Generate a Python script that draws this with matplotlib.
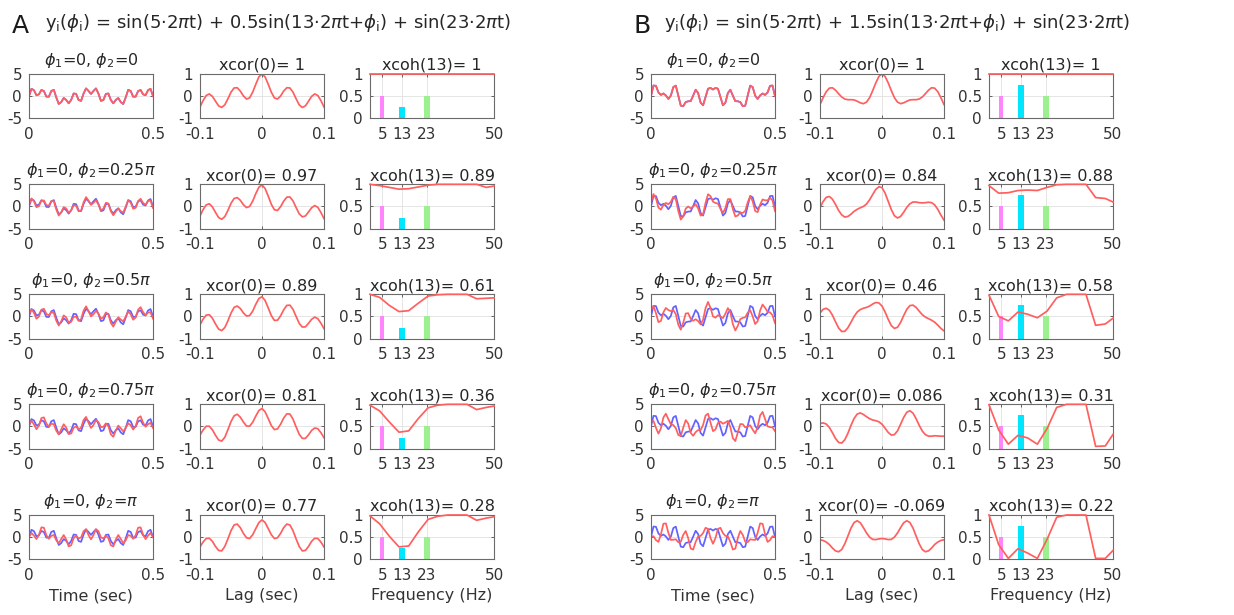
import numpy as np
import matplotlib
matplotlib.use('Agg')
import matplotlib.pyplot as plt

plt.rcParams['font.family'] = ['DejaVu Sans']
plt.rcParams['axes.unicode_minus'] = False
plt.rcParams['mathtext.fontset'] = 'dejavusans'

# ---------------- data ----------------
time = np.linspace(0, 0.5, 51)
lags = np.linspace(-0.1, 0.1, 41)
freqs = [0, 3.9, 7.8, 11.7, 15.6, 19.5, 23.4, 27.3, 31.3, 35.2, 39.1, 43.0, 46.9, 50]

phase_labels = ['0', '0.25$\\pi$', '0.5$\\pi$', '0.75$\\pi$', '$\\pi$']

# panel A time series (y2 for each phi2; y1 equals the phi2=0 series)
A_ts_0 = [0, 1.67, 1.34, 0.20, 0.41, 1.40, 1.15, -0.10, -0.13, 1.17, 1.43, -0.28, -1.77, -1.34, -0.42, -0.85, -1.62, -0.86, 0.60, 0.51, -0.88, -1.06, 0.57, 1.75, 1.17, 0.50, 1.17, 1.75, 0.57, -1.06, -0.88, 0.51, 0.60, -0.86, -1.62, -0.85, -0.42, -1.34, -1.77, -0.28, 1.43, 1.17, -0.13, -0.10, 1.15, 1.40, 0.41, 0.20, 1.34, 1.67, 0]
A_ts_025 = [0.35, 1.80, 1.17, -0.17, 0.07, 1.32, 1.36, 0.28, 0.17, 1.22, 1.18, -0.67, -2.05, -1.33, -0.14, -0.46, -1.38, -0.91, 0.29, 0.14, -1.08, -0.96, 0.91, 2.11, 1.33, 0.35, 0.81, 1.40, 0.46, -0.87, -0.51, 0.83, 0.67, -1.09, -2.00, -1.14, -0.44, -1.07, -1.39, -0.03, 1.40, 0.87, -0.51, -0.32, 1.22, 1.73, 0.78, 0.38, 1.21, 1.32, -0.35]
A_ts_05 = [0.50, 1.64, 0.81, -0.51, -0.03, 1.52, 1.73, 0.59, 0.23, 0.98, 0.80, -0.95, -2.05, -1.06, 0.24, -0.22, -1.42, -1.22, -0.09, -0.07, -0.99, -0.63, 1.28, 2.28, 1.19, 0.00, 0.46, 1.28, 0.64, -0.50, -0.18, 0.91, 0.45, -1.47, -2.29, -1.17, -0.18, -0.69, -1.12, -0.04, 1.11, 0.49, -0.74, -0.25, 1.54, 2.10, 0.97, 0.27, 0.87, 0.96, -0.50]
A_ts_075 = [0.35, 1.29, 0.46, -0.62, 0.16, 1.89, 2.05, 0.66, 0.00, 0.60, 0.51, -0.97, -1.79, -0.67, 0.50, -0.25, -1.72, -1.60, -0.31, 0.01, -0.67, -0.26, 1.45, 2.15, 0.84, -0.35, 0.33, 1.45, 1.00, -0.17, -0.09, 0.70, 0.07, -1.78, -2.34, -0.92, 0.20, -0.41, -1.13, -0.33, 0.72, 0.26, -0.69, 0.06, 1.92, 2.30, 0.86, -0.07, 0.51, 0.80, -0.35]
A_ts_1 = [0, 0.94, 0.34, -0.44, 0.53, 2.21, 2.13, 0.44, -0.38, 0.30, 0.48, -0.71, -1.40, -0.41, 0.48, -0.54, -2.10, -1.83, -0.24, 0.33, -0.29, -0.07, 1.34, 1.81, 0.48, -0.50, 0.48, 1.81, 1.34, -0.07, -0.29, 0.33, -0.24, -1.83, -2.10, -0.54, 0.48, -0.41, -1.40, -0.71, 0.48, 0.30, -0.38, 0.44, 2.13, 2.21, 0.53, -0.44, 0.34, 0.94, 0]

# panel B time series
B_ts_0 = [0, 2.40, 2.33, 0.83, 0.28, 0.60, 0.16, -0.63, 0.12, 2.05, 2.38, 0.14, -2.14, -2.27, -1.33, -1.16, -1.13, 0.11, 1.45, 0.70, -1.47, -2.06, -0.20, 1.68, 1.85, 1.50, 1.85, 1.68, -0.20, -2.06, -1.47, 0.70, 1.45, 0.11, -1.13, -1.16, -1.33, -2.27, -2.14, 0.14, 2.38, 2.05, 0.12, -0.63, 0.16, 0.60, 0.28, 0.83, 2.33, 2.40, 0]
B_ts_025 = [1.06, 2.80, 1.83, -0.26, -0.72, 0.33, 0.79, 0.50, 1.04, 2.18, 1.63, -1.01, -2.96, -2.25, -0.48, -0.01, -0.42, -0.05, 0.51, -0.42, -2.07, -1.75, 0.81, 2.77, 2.33, 1.06, 0.78, 0.65, -0.54, -1.49, -0.35, 1.66, 1.65, -0.58, -2.28, -2.03, -1.38, -1.47, -0.99, 0.92, 2.29, 1.15, -1.02, -1.29, 0.40, 1.58, 1.39, 1.37, 1.96, 1.35, -1.06]
B_ts_05 = [1.50, 2.33, 0.74, -1.28, -1.02, 0.93, 1.92, 1.44, 1.20, 1.46, 0.49, -1.85, -2.98, -1.42, 0.67, 0.74, -0.54, -0.97, -0.62, -1.05, -1.80, -0.76, 1.91, 3.28, 1.92, 0.00, -0.27, 0.28, 0.00, -0.38, 0.63, 1.89, 0.99, -1.72, -3.17, -2.12, -0.61, -0.32, -0.19, 0.86, 1.42, 0.01, -1.71, -1.09, 1.36, 2.69, 1.96, 1.04, 0.93, 0.27, -1.50]
B_ts_075 = [1.06, 1.25, -0.29, -1.62, -0.45, 2.04, 2.88, 1.64, 0.51, 0.32, -0.39, -1.91, -2.18, -0.28, 1.44, 0.65, -1.44, -2.11, -1.28, -0.82, -0.82, 0.35, 2.45, 2.90, 0.87, -1.06, -0.67, 0.79, 1.10, 0.62, 0.89, 1.26, -0.15, -2.64, -3.30, -1.37, 0.54, 0.51, -0.21, 0.01, 0.27, -0.71, -1.55, -0.16, 2.48, 3.29, 1.65, 0.02, -0.16, -0.20, -1.06]
B_ts_1 = [0, 0.21, -0.66, -1.08, 0.66, 3.02, 3.11, 0.98, -0.63, -0.58, -0.48, -1.14, -1.03, 0.52, 1.39, -0.23, -2.58, -2.80, -1.08, 0.14, 0.29, 0.92, 2.11, 1.87, -0.20, -1.50, -0.20, 1.87, 2.11, 0.92, 0.29, 0.14, -1.08, -2.80, -2.58, -0.23, 1.39, 0.52, -1.03, -1.14, -0.48, -0.58, -0.63, 0.98, 3.11, 3.02, 0.66, -1.08, -0.66, 0.21, 0]

# cross-correlation curves
A_xc_0 = [-0.49, -0.20, 0.03, 0.10, -0.01, -0.23, -0.44, -0.51, -0.39, -0.12, 0.18, 0.37, 0.38, 0.23, 0.01, -0.13, -0.08, 0.18, 0.54, 0.87, 1.00, 0.87, 0.54, 0.18, -0.08, -0.13, 0.01, 0.23, 0.38, 0.37, 0.18, -0.12, -0.39, -0.51, -0.44, -0.23, -0.01, 0.10, 0.03, -0.20, -0.49]
A_xc_025 = [-0.43, -0.14, 0.07, 0.12, -0.02, -0.27, -0.50, -0.58, -0.46, -0.18, 0.14, 0.36, 0.40, 0.28, 0.08, -0.05, 0.00, 0.24, 0.58, 0.87, 0.97, 0.81, 0.47, 0.10, -0.15, -0.18, -0.01, 0.24, 0.42, 0.43, 0.25, -0.05, -0.33, -0.47, -0.43, -0.25, -0.06, 0.04, -0.04, -0.27, -0.55]
A_xc_05 = [-0.38, -0.12, 0.06, 0.08, -0.08, -0.34, -0.57, -0.64, -0.50, -0.20, 0.15, 0.41, 0.47, 0.36, 0.16, 0.02, 0.04, 0.24, 0.55, 0.81, 0.89, 0.72, 0.39, 0.04, -0.18, -0.17, 0.03, 0.30, 0.50, 0.51, 0.32, 0.00, -0.31, -0.48, -0.47, -0.31, -0.13, -0.03, -0.10, -0.30, -0.55]
A_xc_075 = [-0.39, -0.16, 0.01, 0.01, -0.15, -0.40, -0.61, -0.66, -0.49, -0.15, 0.22, 0.48, 0.55, 0.42, 0.20, 0.02, 0.01, 0.19, 0.47, 0.72, 0.81, 0.66, 0.36, 0.04, -0.14, -0.11, 0.10, 0.38, 0.57, 0.56, 0.33, -0.02, -0.35, -0.54, -0.54, -0.38, -0.18, -0.07, -0.10, -0.28, -0.51]
A_xc_1 = [-0.44, -0.22, -0.06, -0.05, -0.19, -0.42, -0.60, -0.62, -0.42, -0.08, 0.29, 0.55, 0.59, 0.43, 0.17, -0.03, -0.06, 0.11, 0.39, 0.66, 0.78, 0.66, 0.39, 0.11, -0.06, -0.03, 0.17, 0.43, 0.59, 0.55, 0.29, -0.08, -0.42, -0.62, -0.60, -0.42, -0.19, -0.05, -0.06, -0.22, -0.44]

B_xc_0 = [-0.38, -0.07, 0.20, 0.36, 0.38, 0.27, 0.11, -0.04, -0.13, -0.16, -0.16, -0.17, -0.23, -0.30, -0.34, -0.27, -0.07, 0.25, 0.60, 0.89, 1.00, 0.89, 0.60, 0.25, -0.07, -0.27, -0.34, -0.30, -0.23, -0.17, -0.16, -0.16, -0.13, -0.04, 0.11, 0.27, 0.38, 0.36, 0.20, -0.07, -0.38]
B_xc_025 = [-0.05, 0.22, 0.41, 0.45, 0.33, 0.09, -0.18, -0.38, -0.48, -0.45, -0.35, -0.22, -0.13, -0.06, 0.00, 0.11, 0.30, 0.54, 0.77, 0.89, 0.85, 0.60, 0.23, -0.14, -0.42, -0.52, -0.45, -0.26, -0.04, 0.12, 0.20, 0.20, 0.17, 0.16, 0.17, 0.19, 0.17, 0.07, -0.13, -0.39, -0.62]
B_xc_05 = [0.16, 0.32, 0.37, 0.28, 0.06, -0.24, -0.52, -0.68, -0.67, -0.51, -0.26, 0.00, 0.20, 0.31, 0.37, 0.41, 0.47, 0.56, 0.63, 0.61, 0.47, 0.20, -0.13, -0.41, -0.54, -0.49, -0.27, 0.04, 0.32, 0.49, 0.51, 0.41, 0.24, 0.08, -0.03, -0.10, -0.17, -0.26, -0.39, -0.54, -0.65]
B_xc_075 = [0.13, 0.16, 0.11, -0.04, -0.28, -0.54, -0.72, -0.75, -0.60, -0.31, 0.05, 0.36, 0.56, 0.61, 0.54, 0.44, 0.35, 0.29, 0.26, 0.21, 0.10, -0.08, -0.27, -0.39, -0.37, -0.20, 0.10, 0.41, 0.64, 0.71, 0.60, 0.35, 0.05, -0.21, -0.37, -0.44, -0.44, -0.42, -0.43, -0.44, -0.44]
B_xc_1 = [-0.12, -0.15, -0.22, -0.33, -0.49, -0.62, -0.66, -0.56, -0.30, 0.05, 0.41, 0.66, 0.74, 0.65, 0.43, 0.19, 0.00, -0.10, -0.11, -0.08, -0.06, -0.08, -0.11, -0.10, 0.00, 0.19, 0.43, 0.65, 0.74, 0.66, 0.41, 0.05, -0.30, -0.56, -0.66, -0.62, -0.49, -0.33, -0.22, -0.15, -0.12]

# coherence curves
A_coh_0 = [1, 1, 1, 1, 1, 1, 1, 1, 1, 1, 1, 1, 1, 1]
A_coh_025 = [1.0, 0.97, 0.93, 0.89, 0.90, 0.94, 0.98, 1.0, 1.0, 1.0, 1.0, 1.0, 0.93, 0.96]
A_coh_05 = [1.0, 0.93, 0.75, 0.61, 0.63, 0.80, 0.96, 0.99, 1.0, 1.0, 1.0, 0.90, 0.91, 0.92]
A_coh_075 = [0.98, 0.85, 0.60, 0.37, 0.40, 0.68, 0.92, 0.98, 1.0, 1.0, 1.0, 0.88, 0.93, 0.96]
A_coh_1 = [0.98, 0.80, 0.52, 0.28, 0.30, 0.62, 0.90, 0.97, 1.0, 1.0, 1.0, 0.88, 0.93, 0.96]

B_coh_0 = [1, 1, 1, 1, 1, 1, 1, 1, 1, 1, 1, 1, 1, 1]
B_coh_025 = [0.97, 0.80, 0.81, 0.86, 0.87, 0.86, 0.93, 0.99, 1.0, 1.0, 1.0, 0.70, 0.68, 0.60]
B_coh_05 = [0.98, 0.50, 0.40, 0.60, 0.55, 0.47, 0.62, 0.92, 1.0, 1.0, 1.0, 0.30, 0.33, 0.46]
B_coh_075 = [0.99, 0.42, 0.10, 0.30, 0.24, 0.10, 0.45, 0.93, 1.0, 1.0, 1.0, 0.05, 0.06, 0.32]
B_coh_1 = [1.0, 0.33, 0.02, 0.24, 0.14, 0.02, 0.45, 0.95, 1.0, 1.0, 1.0, 0.02, 0.02, 0.20]

A_xcor_titles = ['1', '0.97', '0.89', '0.81', '0.77']
B_xcor_titles = ['1', '0.84', '0.46', '0.086', '-0.069']
A_xcoh_titles = ['1', '0.89', '0.61', '0.36', '0.28']
B_xcoh_titles = ['1', '0.88', '0.58', '0.31', '0.22']

bar_freqs = [5, 13, 23]
A_bar_heights = [0.5, 0.25, 0.5]
B_bar_heights = [0.5, 0.75, 0.5]

# ---------------- figure ----------------
W, H = 1234, 615
fig = plt.figure(figsize=(W / 100, H / 100), dpi=100)

RED = '#ff5f5f'
BLUE = '#6262ff'
bar_colors = ['#ff85ff', '#00e6ff', '#9cf08f']
bar_widths = [1.6, 2.4, 2.4]

aw, ah = 124, 44.3
row_tops = [74, 184.3, 294.3, 404.3, 515]
col_lefts = {'A': [29, 200, 370], 'B': [651, 820, 989]}


def add_ax(x, y):
    return fig.add_axes([x / W, 1 - (y + ah) / H, aw / W, ah / H])


def style(ax):
    ax.tick_params(direction='in', length=2.5, width=0.6, color='0.3',
                   labelsize=11, labelcolor='0.2', top=True, right=True)
    ax.tick_params(axis='x', pad=6)
    ax.tick_params(axis='y', pad=5)
    for s in ax.spines.values():
        s.set_color('0.42')
        s.set_linewidth(0.8)
    ax.grid(True, color='0.88', linewidth=0.6)
    ax.set_axisbelow(True)


panels = {
    'A': dict(ts=[A_ts_0, A_ts_025, A_ts_05, A_ts_075, A_ts_1],
              xc=[A_xc_0, A_xc_025, A_xc_05, A_xc_075, A_xc_1],
              coh=[A_coh_0, A_coh_025, A_coh_05, A_coh_075, A_coh_1],
              xct=A_xcor_titles, coht=A_xcoh_titles, bars=A_bar_heights),
    'B': dict(ts=[B_ts_0, B_ts_025, B_ts_05, B_ts_075, B_ts_1],
              xc=[B_xc_0, B_xc_025, B_xc_05, B_xc_075, B_xc_1],
              coh=[B_coh_0, B_coh_025, B_coh_05, B_coh_075, B_coh_1],
              xct=B_xcor_titles, coht=B_xcoh_titles, bars=B_bar_heights),
}

LW = 1.25

for key, p in panels.items():
    lefts = col_lefts[key]
    y1 = p['ts'][0]
    for r in range(5):
        top = row_tops[r]
        # time series
        ax = add_ax(lefts[0], top)
        style(ax)
        ax.plot(time, y1, color=BLUE, lw=LW)
        ax.plot(time, p['ts'][r], color=RED, lw=LW)
        ax.set_xlim(0, 0.5)
        ax.set_ylim(-5, 5)
        ax.set_xticks([0, 0.5])
        ax.set_xticklabels(['0', '0.5'])
        ax.set_yticks([-5, 0, 5])
        ax.set_title('$\\phi_1$=0, $\\phi_2$=' + phase_labels[r], fontsize=11.5,
                     color='0.15', pad=6.5)
        if r == 4:
            ax.set_xlabel('Time (sec)', fontsize=11.5, color='0.2', labelpad=4)

        # cross-correlation
        ax = add_ax(lefts[1], top)
        style(ax)
        ax.plot(lags, p['xc'][r], color=RED, lw=LW)
        ax.set_xlim(-0.1, 0.1)
        ax.set_ylim(-1, 1)
        ax.set_xticks([-0.1, 0, 0.1])
        ax.set_xticklabels(['-0.1', '0', '0.1'])
        ax.set_yticks([-1, 0, 1])
        ax.set_title('xcor(0)= ' + p['xct'][r], fontsize=11.5, color='0.15', pad=3)
        if r == 4:
            ax.set_xlabel('Lag (sec)', fontsize=11.5, color='0.2', labelpad=4)

        # coherence
        ax = add_ax(lefts[2], top)
        style(ax)
        ax.bar(bar_freqs, p['bars'], width=bar_widths, color=bar_colors, zorder=2)
        ax.plot(freqs, p['coh'][r], color=RED, lw=LW, zorder=3, clip_on=False)
        ax.set_xlim(0, 50)
        ax.set_ylim(0, 1)
        ax.set_xticks([5, 13, 23, 50])
        ax.set_xticklabels(['5', '13', '23', '50'])
        ax.set_yticks([0, 0.5, 1])
        ax.set_yticklabels(['0', '0.5', '1'])
        ax.set_title('xcoh(13)= ' + p['coht'][r], fontsize=11.5, color='0.15', pad=3)
        if r == 4:
            ax.set_xlabel('Frequency (Hz)', fontsize=11.5, color='0.2', labelpad=4)

# panel letters and headings
fig.text(12 / W, 1 - 33 / H, 'A', fontsize=18, color='0.1', va='baseline')
fig.text(45 / W, 1 - 28 / H,
         'y$_{\\rm i}$($\\phi_{\\rm i}$) = sin(5$\\cdot$2$\\pi$t) + 0.5sin(13$\\cdot$2$\\pi$t+$\\phi_{\\rm i}$) + sin(23$\\cdot$2$\\pi$t)',
         fontsize=13, color='0.15', va='baseline')
fig.text(633 / W, 1 - 33 / H, 'B', fontsize=18, color='0.1', va='baseline')
fig.text(664 / W, 1 - 28 / H,
         'y$_{\\rm i}$($\\phi_{\\rm i}$) = sin(5$\\cdot$2$\\pi$t) + 1.5sin(13$\\cdot$2$\\pi$t+$\\phi_{\\rm i}$) + sin(23$\\cdot$2$\\pi$t)',
         fontsize=13, color='0.15', va='baseline')

fig.savefig('out.png', dpi=100)
